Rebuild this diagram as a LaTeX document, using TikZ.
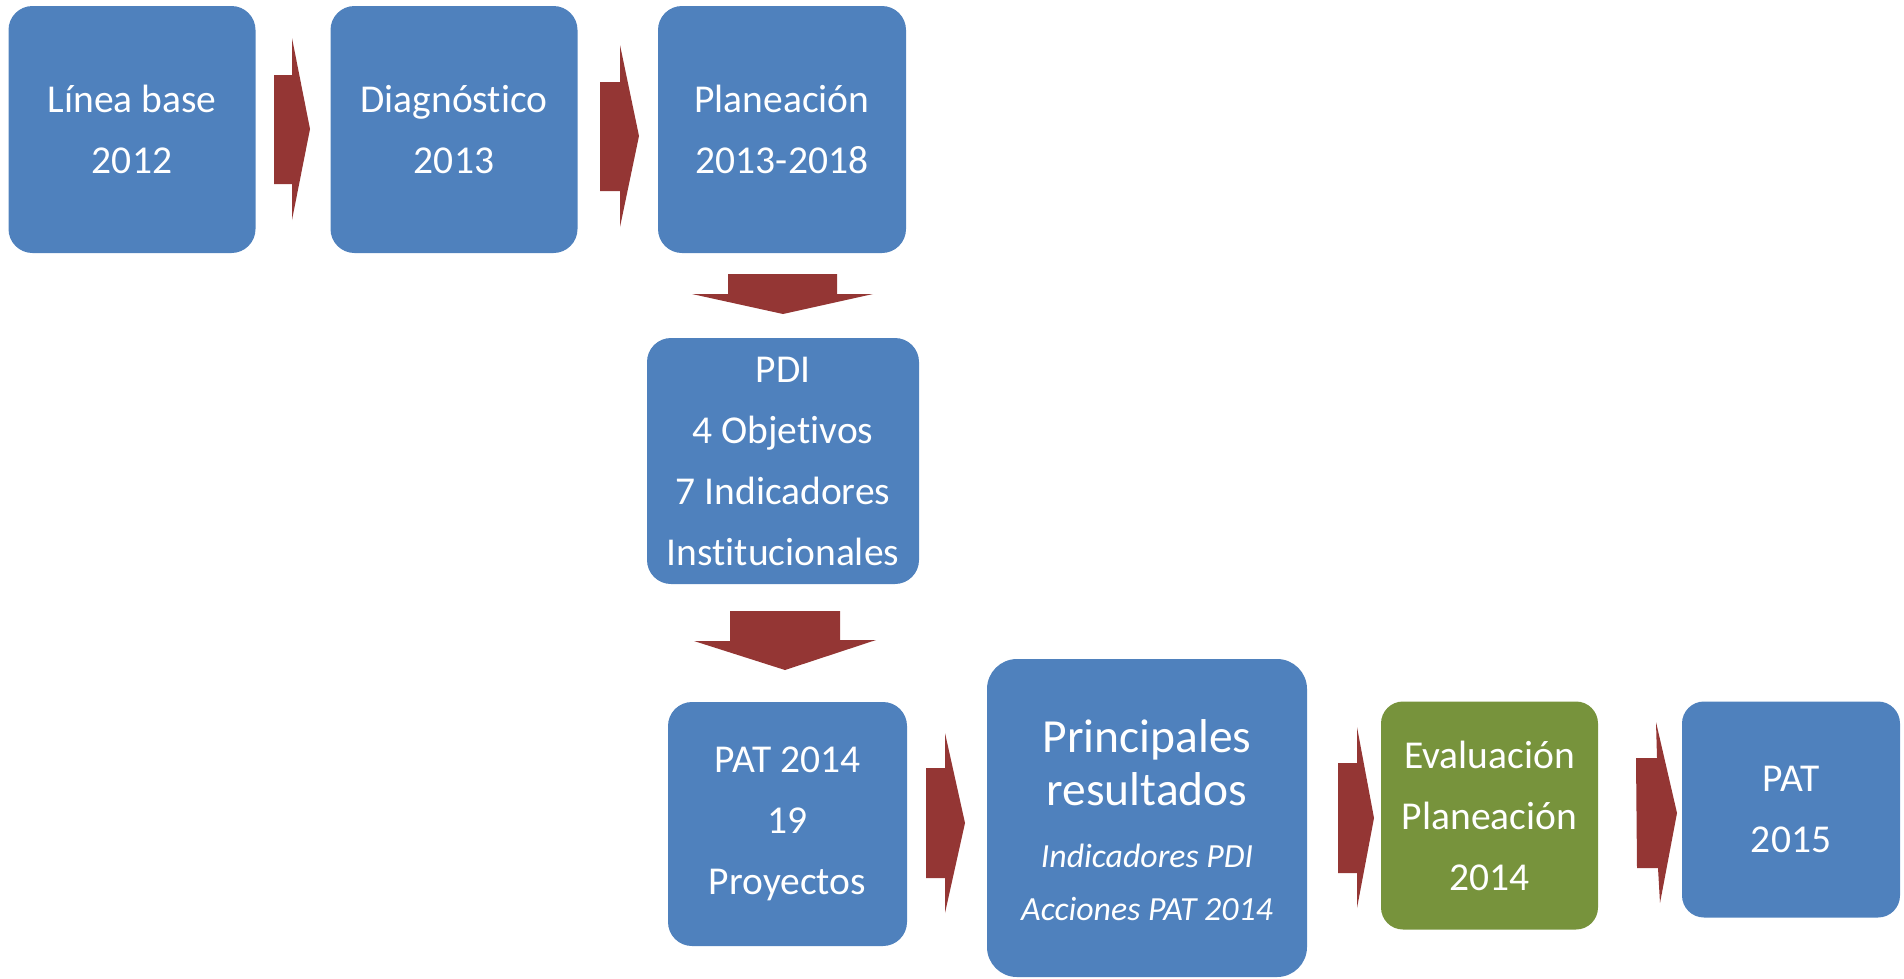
\documentclass[tikz,border=0pt]{standalone}
\usepackage{fontspec}
\setmainfont{Carlito}[Ligatures=NoCommon]
\definecolor{boxblue}{HTML}{4F81BD}
\definecolor{boxgreen}{HTML}{77933C}
\definecolor{arrowred}{HTML}{943634}
\begin{document}
\begin{tikzpicture}[x=1pt,y=-1pt]
\tikzset{
  stage/.style={fill=boxblue, rounded corners=24pt, text=white, align=center,
    font=\fontsize{39.5}{61}\selectfont, inner sep=0pt},
  greenstage/.style={stage, fill=boxgreen},
  blockarrow/.style={fill=arrowred},
  bigtext/.style={text=white, anchor=base, inner sep=0pt, font=\fontsize{47.5}{53}\selectfont},
  smalltext/.style={text=white, anchor=base, inner sep=0pt, font=\fontsize{33.8}{53}\selectfont\itshape}
}
\useasboundingbox (0,0) rectangle (1904,978);
% boxes
\node[stage, minimum width=247pt, minimum height=247pt] (b1) at (132,129.5) {Línea base\\2012};
\node[stage, minimum width=247pt, minimum height=247pt] (b2) at (454,129.5) {Diagnóstico\\2013};
\node[stage, minimum width=248pt, minimum height=247pt] (b3) at (782,129.5) {Planeación\\2013-2018};
\node[stage, minimum width=272pt, minimum height=246pt] (b4) at (783,461) {PDI\\4 Objetivos\\7 Indicadores\\Institucionales};
\node[stage, minimum width=239pt, minimum height=244pt] (b5) at (787.5,824) {PAT 2014\\19\\Proyectos};
\node[stage, rounded corners=30pt, minimum width=320pt, minimum height=318pt] (b6) at (1147,818) {};
\node[greenstage, rounded corners=22pt, minimum width=217pt, minimum height=228pt] (b7) at (1489.5,815.5) {Evaluación\\Planeación\\2014};
\node[stage, rounded corners=22pt, minimum width=218pt, minimum height=216pt] (b8) at (1791,809.5) {PAT\\2015};
% texts of box 6
\node[bigtext] (t1) at (1147,752) {Principales};
\node[bigtext] (t2) at (1147,805) {resultados};
\node[smalltext] (t3) at (1147,867) {Indicadores PDI};
\node[smalltext] (t4) at (1147,920) {Acciones PAT 2014};
% block arrows
\fill[blockarrow] (274,75) -- (292,75) -- (292,38) -- (310,129) -- (292,220) -- (292,184) -- (274,184) -- cycle;
\fill[blockarrow] (600,82) -- (620,82) -- (620,45) -- (639,136) -- (620,227) -- (620,191) -- (600,191) -- cycle;
\fill[blockarrow] (728,274) -- (837,274) -- (837,294) -- (873,294) -- (783,314) -- (692,294) -- (728,294) -- cycle;
\fill[blockarrow] (730,611) -- (840,611) -- (840,640) -- (876,640) -- (785,670) -- (694,641) -- (730,641) -- cycle;
\fill[blockarrow] (926,768) -- (945,768) -- (945,733) -- (965,823) -- (945,913) -- (945,878) -- (926,878) -- cycle;
\fill[blockarrow] (1338,763) -- (1357,763) -- (1357,727) -- (1374,818) -- (1357,908) -- (1357,873) -- (1338,873) -- cycle;
\fill[blockarrow] (1636,758) -- (1657,758) -- (1656,722) -- (1677,813) -- (1660,903) -- (1658,868) -- (1637,868) -- cycle;
\end{tikzpicture}
\end{document}
